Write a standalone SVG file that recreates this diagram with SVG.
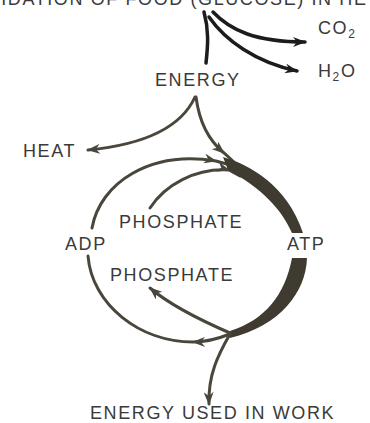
<svg xmlns="http://www.w3.org/2000/svg" width="370" height="423" viewBox="0 0 370 423">
<style>
text{font-family:"Liberation Sans",Arial,sans-serif;font-size:18px;letter-spacing:1.6px;fill:#3a3a3a}
.k{fill:none;stroke:#1c1c1c;stroke-width:3.5;stroke-linecap:round}
.c{fill:none;stroke:#4a463c;stroke-width:3;stroke-linecap:round}
.band{fill:#3f3b30}
</style>
<defs>
<marker id="ak" markerWidth="14" markerHeight="10" refX="12" refY="5" orient="auto" markerUnits="userSpaceOnUse"><path d="M0,0 L13,5 L0,10 L4,5 Z" fill="#1c1c1c"/></marker>
<marker id="ac" markerWidth="14" markerHeight="10" refX="12" refY="5" orient="auto" markerUnits="userSpaceOnUse"><path d="M0,0 L13,5 L0,10 L4,5 Z" fill="#4a463c"/></marker>
</defs>
<g id="title"><text x="-28" y="5">OXIDATION OF FOOD (GLUCOSE) IN HE</text></g>
<g id="co2"><text x="318" y="34">CO<tspan font-size="12" dy="4">2</tspan></text></g>
<g id="h2o"><text x="318" y="77">H<tspan font-size="12" dy="4">2</tspan><tspan dy="-4">O</tspan></text></g>
<g id="energy"><text x="155" y="86">ENERGY</text></g>
<g id="heat"><text x="23" y="157">HEAT</text></g>
<g id="phosphate-in"><text x="119" y="228">PHOSPHATE</text></g>
<g id="adp"><text x="65" y="250">ADP</text></g>
<g id="atp"><text x="287" y="250">ATP</text></g>
<g id="phosphate-out"><text x="110" y="281">PHOSPHATE</text></g>
<g id="work"><text x="90" y="419">ENERGY USED IN WORK</text></g>
<g id="connectors">
<path class="k" d="M204,12 C209,30 208,45 206,63"/>
<path class="k" d="M213,12 C230,30 255,42 305,42" marker-end="url(#ak)"/>
<path class="k" d="M209,17 C225,40 255,62 297,71" marker-end="url(#ak)"/>
<path class="c" d="M195,97 C180,130 140,145 88,150" marker-end="url(#ac)"/>
<path class="c" d="M196,97 C199,120 208,140 224,153 L234,162" marker-mid="url(#ac)"/>
<path class="c" d="M92,228 C100,183 150,150 216,161 L234,166" marker-mid="url(#ac)"/>
<path class="c" d="M150,208 C165,185 195,168 229,170 L240,176" marker-mid="url(#ac)"/>
<path class="band" d="M223,157 C250,165 287,185 303,233 L292,233 C282,210 262,188 228,170 Z"/>
<path class="band" d="M307,258 C306,292 280,326 230,338 L230,331 C265,320 285,295 292,258 Z"/>
<path class="c" d="M230,334 C215,340 205,342 193,342 C140,342 92,305 88,256" marker-mid="url(#ac)"/>
<path class="c" d="M230,333 C200,320 170,305 150,288" marker-end="url(#ac)"/>
<path class="c" d="M230,334 C218,355 208,375 209,404" marker-end="url(#ac)"/>
</g>
</svg>
